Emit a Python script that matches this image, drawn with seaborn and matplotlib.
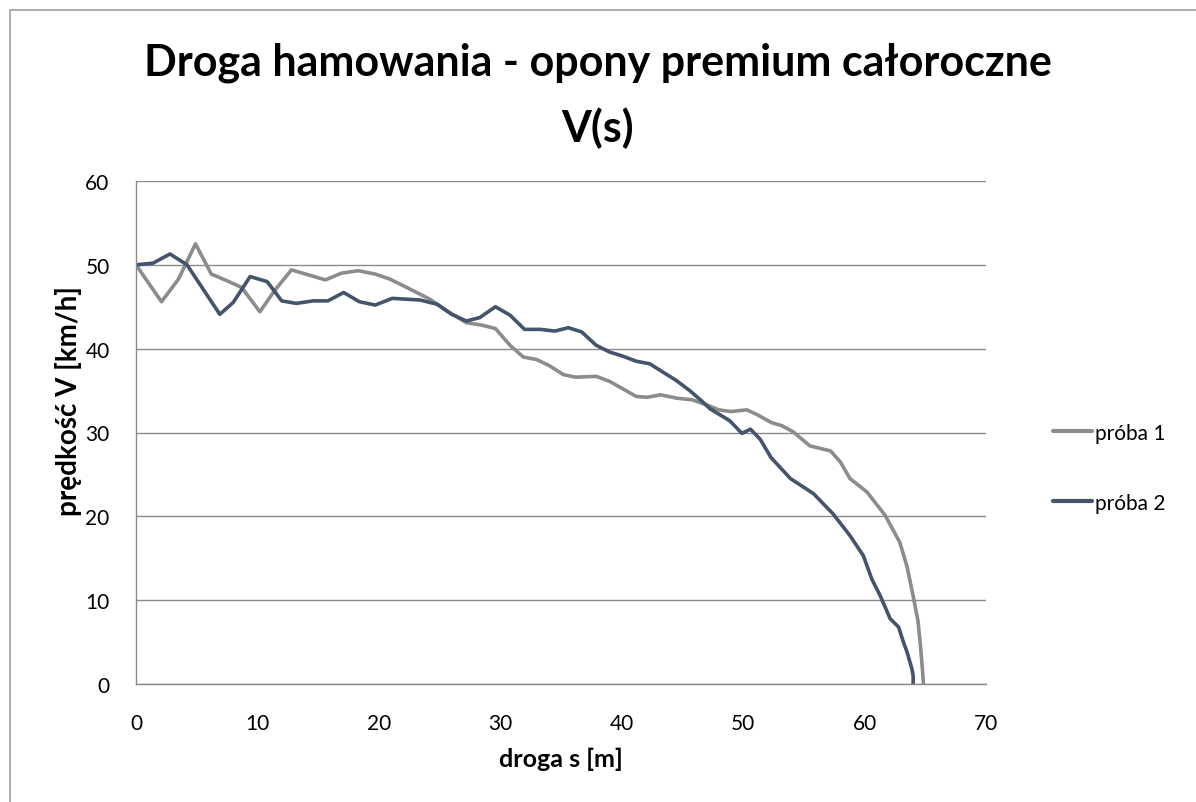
import numpy as np
import pandas as pd
import matplotlib
matplotlib.use('Agg')
import matplotlib.pyplot as plt
import seaborn as sns
from matplotlib.patches import Rectangle

sns.set_theme(style='white')
plt.rcParams['font.family'] = ['Lato', 'DejaVu Sans']
plt.rcParams['text.color'] = 'black'
plt.rcParams['axes.labelcolor'] = 'black'

# próba 1 (grey)
s1 = [0, 2.1, 3.5, 4.9, 6.2, 7.5, 8.7, 10.2, 11.4, 12.8, 14.2, 15.6, 16.9, 18.3, 19.7,
      20.9, 22.3, 24.2, 25.5, 27.2, 28.5, 29.6, 30.8, 31.9, 33.0, 34.0, 35.2, 36.2, 37.9,
      39.0, 40.1, 41.2, 42.1, 43.2, 44.5, 45.8, 47.0, 48.0, 49.0, 50.3, 51.2, 52.3, 53.2,
      54.1, 55.5, 57.2, 58.0, 58.8, 60.2, 61.7, 62.9, 63.5, 64.0, 64.4, 64.6, 64.75, 64.85]
v1 = [50.0, 45.6, 48.3, 52.5, 48.9, 48.1, 47.3, 44.4, 46.9, 49.4, 48.8, 48.2, 49.0, 49.3, 48.9,
      48.3, 47.3, 45.9, 44.6, 43.1, 42.8, 42.4, 40.4, 39.0, 38.7, 38.0, 36.9, 36.6, 36.7,
      36.1, 35.2, 34.3, 34.2, 34.5, 34.1, 33.9, 33.3, 32.7, 32.5, 32.7, 32.1, 31.2, 30.8,
      30.1, 28.4, 27.8, 26.5, 24.5, 22.9, 20.1, 16.9, 14.0, 10.5, 7.5, 4.6, 2.0, 0.0]

# próba 2 (dark blue)
s2 = [0, 1.4, 2.8, 4.2, 6.9, 8.0, 9.4, 10.8, 12.0, 13.2, 14.6, 15.8, 17.1, 18.4, 19.7,
      21.1, 22.3, 23.4, 24.8, 26.0, 27.2, 28.3, 29.6, 30.8, 32.0, 33.3, 34.5, 35.6, 36.7,
      37.9, 39.0, 40.1, 41.2, 42.3, 43.4, 44.5, 45.6, 46.4, 47.3, 48.9, 49.9, 50.6, 51.4,
      52.3, 53.9, 55.8, 57.4, 58.8, 59.9, 60.6, 61.3, 62.1, 62.8, 63.2, 63.5, 63.9, 64.0, 64.0]
v2 = [50.0, 50.2, 51.3, 50.0, 44.1, 45.5, 48.6, 48.0, 45.7, 45.4, 45.7, 45.7, 46.7, 45.6, 45.2,
      46.0, 45.9, 45.8, 45.3, 44.1, 43.3, 43.7, 45.0, 44.0, 42.3, 42.3, 42.1, 42.5, 42.0,
      40.4, 39.6, 39.1, 38.5, 38.2, 37.2, 36.2, 35.0, 34.0, 32.8, 31.4, 29.9, 30.4, 29.2,
      27.0, 24.5, 22.7, 20.3, 17.7, 15.3, 12.5, 10.5, 7.8, 6.8, 5.0, 3.8, 1.8, 1.0, 0.0]

df = pd.concat([
    pd.DataFrame({'s': s1, 'v': v1, 'seria': 'próba 1'}),
    pd.DataFrame({'s': s2, 'v': v2, 'seria': 'próba 2'}),
])

fig = plt.figure(figsize=(11.96, 8.03), dpi=100)
ax = fig.add_axes([136 / 1196, 1 - 685 / 803, 850 / 1196, 503 / 803])

sns.lineplot(data=df, x='s', y='v', hue='seria', sort=False, estimator=None,
             palette={'próba 1': '#8c8c8c', 'próba 2': '#44546a'}, linewidth=2.6, ax=ax)

ax.set_xlim(0, 70)
ax.set_ylim(0, 60)
ax.set_xticks(range(0, 71, 10))
ax.set_yticks(range(0, 61, 10))
ax.yaxis.grid(True, color='#8a8a8a', linewidth=1.0)
ax.xaxis.grid(False)
for side in ['top', 'right']:
    ax.spines[side].set_visible(False)
for side in ['left', 'bottom']:
    ax.spines[side].set_color('#8a8a8a')
    ax.spines[side].set_linewidth(1.0)
ax.tick_params(axis='both', length=0, labelsize=15, colors='black')
ax.tick_params(axis='x', pad=21)
ax.tick_params(axis='y', pad=19)

ax.set_xlabel('droga s [m]', fontsize=18, fontweight='bold', labelpad=10)
ax.set_ylabel('prędkość V [km/h]', fontsize=20, fontweight='bold')
ax.yaxis.set_label_coords(-0.064, 0.565)

fig.text(0.5, 1 - 63 / 803, 'Droga hamowania - opony premium całoroczne',
         ha='center', va='center', fontsize=31, fontweight='bold')
fig.text(0.5, 1 - 128 / 803, 'V(s)', ha='center', va='center', fontsize=31, fontweight='bold')

leg = ax.legend(loc='center left', bbox_to_anchor=(1.066, 0.43), frameon=False, borderpad=0,
                fontsize=15, handlelength=1.9, handletextpad=0.15, labelspacing=2.4)
for line in leg.get_lines():
    line.set_linewidth(3)

fig.patches.append(Rectangle((10 / 1196, -0.01), 1.02, 1 - 11 / 803 + 0.01,
                             transform=fig.transFigure, fill=False,
                             edgecolor='#a0a0a0', linewidth=1.2))

fig.savefig('out.png', dpi=100)
